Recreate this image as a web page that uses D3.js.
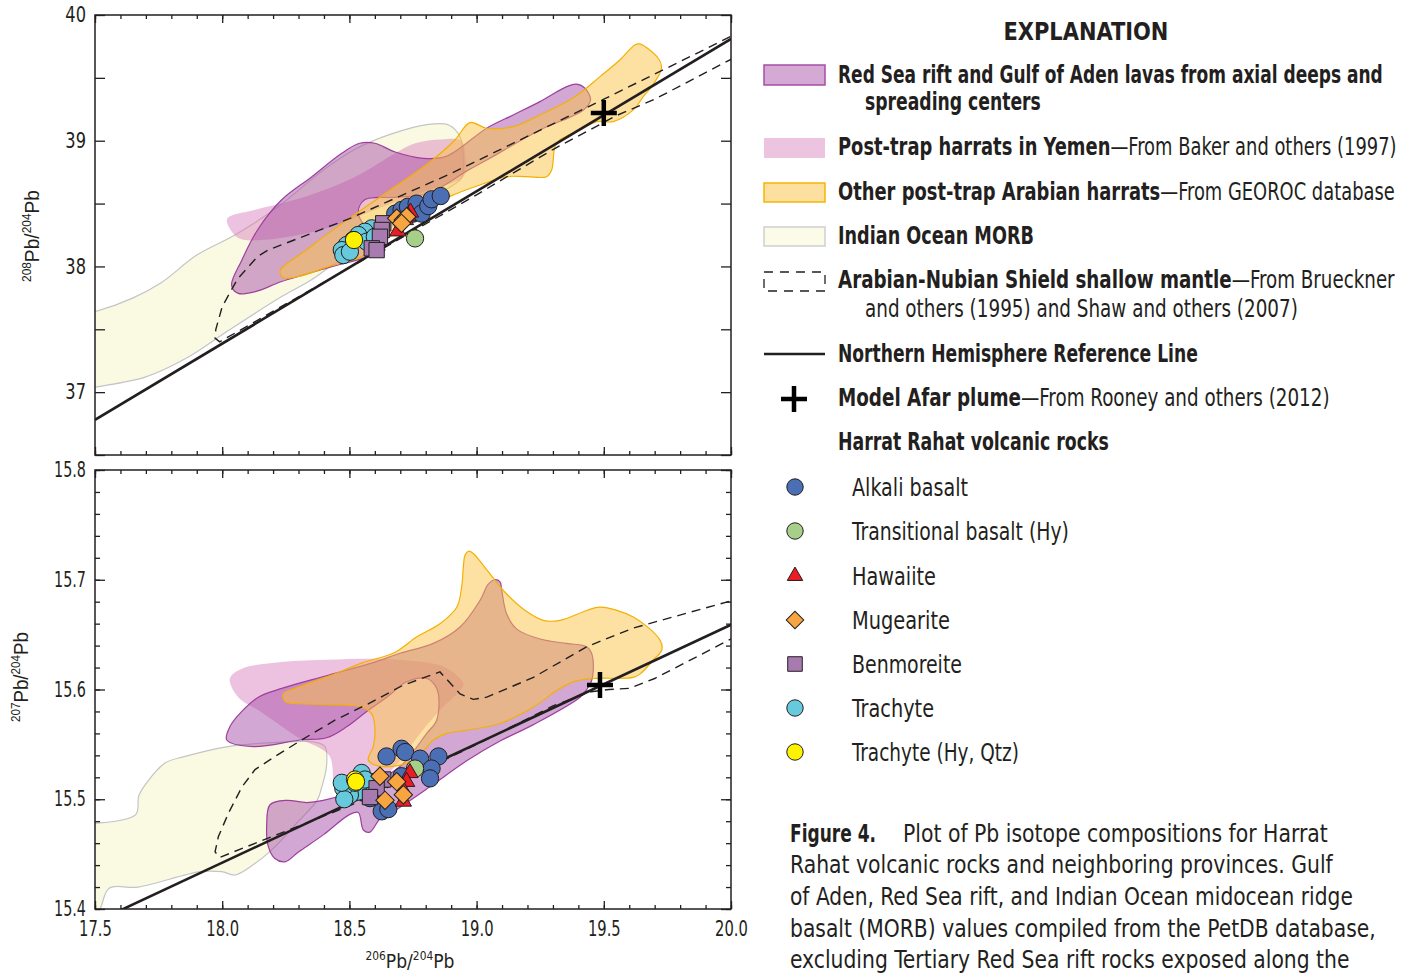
<!DOCTYPE html>
<html>
<head>
<meta charset="utf-8">
<title>Pb isotopes - Harrat Rahat</title>
<script src="https://cdn.jsdelivr.net/npm/d3@7"></script>
<style>
  body { margin: 0; background: #fff; }
  svg { display: block; }
  text { font-family: "Liberation Sans Narrow", "Arial Narrow", "DejaVu Sans Condensed", sans-serif; fill: #231f20; }
</style>
</head>
<body>
<div id="chart"></div>
<script>
// values (206Pb/204Pb on x, 208Pb/204Pb top panel, 207Pb/204Pb bottom panel)
var xTickLabels = ["17.5", "18.0", "18.5", "19.0", "19.5", "20.0"];
var yTopLabels = ["37", "38", "39", "40"];
var yBotLabels = ["15.4", "15.5", "15.6", "15.7", "15.8"];

// fields, 208 panel
var morb208 = [[17.45, 37.62], [17.5, 37.64], [17.65, 37.75], [17.76, 37.87], [17.9, 38.09], [18.05, 38.25], [18.21, 38.46],
  [18.4, 38.77], [18.52, 38.93], [18.66, 39.05], [18.81, 39.13], [18.89, 39.125], [18.935, 39.03], [18.948, 38.79],
  [18.94, 38.70], [18.8, 38.52], [18.6, 38.22], [18.44, 38.02], [18.34, 37.88], [18.234, 37.76], [18.024, 37.49],
  [17.867, 37.28], [17.697, 37.12], [17.5, 37.04], [17.45, 37.02]];
var yemen208 = [[18.02, 38.38], [18.13, 38.45], [18.286, 38.53], [18.417, 38.62], [18.548, 38.74], [18.68, 38.9],
  [18.758, 38.98], [18.863, 39.01], [18.94, 39.0], [18.955, 38.88], [18.95, 38.72], [18.8, 38.6], [18.6, 38.45],
  [18.45, 38.33], [18.3, 38.25], [18.15, 38.21], [18.07, 38.22], [18.03, 38.3]];
var redSea208 = [[18.037, 37.85], [18.077, 38.05], [18.142, 38.3], [18.234, 38.53], [18.35, 38.71], [18.47, 38.9],
  [18.54, 38.98], [18.6, 38.98], [18.68, 38.91], [18.79, 38.86], [18.88, 38.875], [19.04, 39.1], [19.144, 39.205],
  [19.249, 39.311], [19.354, 39.43], [19.393, 39.45], [19.426, 39.417], [19.448, 39.324], [19.42, 39.245],
  [19.249, 39.085], [19.04, 38.847], [18.97, 38.77], [18.81, 38.58], [18.68, 38.55], [18.56, 38.53], [18.535, 38.42],
  [18.6, 38.22], [18.64, 38.13], [18.58, 38.08], [18.4, 37.98], [18.234, 37.88], [18.13, 37.8], [18.063, 37.786]];
var harrats208 = [[18.227, 37.96], [18.247, 38.01], [18.312, 38.104], [18.417, 38.263], [18.548, 38.45], [18.68, 38.635],
  [18.81, 38.82], [18.915, 39.006], [18.974, 39.144], [19.04, 39.099], [19.144, 39.112], [19.249, 39.205],
  [19.354, 39.31], [19.406, 39.377], [19.485, 39.51], [19.563, 39.642], [19.622, 39.762], [19.642, 39.77],
  [19.714, 39.656], [19.727, 39.589], [19.72, 39.536], [19.688, 39.43], [19.655, 39.35], [19.616, 39.245],
  [19.537, 39.152], [19.472, 39.152], [19.406, 39.085], [19.327, 39.006], [19.308, 38.953], [19.295, 38.767],
  [19.275, 38.714], [19.197, 38.714], [19.118, 38.714], [19.013, 38.648], [18.908, 38.568], [18.817, 38.475],
  [18.66, 38.237], [18.55, 38.08], [18.42, 38.0], [18.3, 37.92], [18.24, 37.91]];
var shield208 = [[20.05, 39.88], [19.5, 39.33], [18.9, 38.74], [18.5, 38.38], [18.18, 38.13], [18.14, 38.08],
  [18.06, 37.9], [18.0, 37.68], [17.975, 37.5], [17.972, 37.43], [17.99, 37.40], [18.5, 37.99], [19.0, 38.57],
  [19.3, 38.93], [19.55, 39.2], [19.7, 39.33], [20.05, 39.7]];
var nhrl208 = [[17.5, 36.78], [20.0, 39.81]];
var plume208 = [19.5, 39.22];

// fields, 207 panel
var morb207 = [[17.45, 15.478], [17.5, 15.478], [17.66, 15.486], [17.672, 15.503], [17.70, 15.514], [17.775, 15.533],
  [17.854, 15.539], [18.024, 15.548], [18.234, 15.552], [18.365, 15.552], [18.404, 15.548], [18.41, 15.53],
  [18.39, 15.51], [18.373, 15.499], [18.3, 15.48], [18.2, 15.455], [18.12, 15.44], [18.05, 15.431], [17.998, 15.434],
  [17.914, 15.434], [17.669, 15.42], [17.556, 15.419], [17.52, 15.40], [17.45, 15.37]];
var yemen207 = [[18.03, 15.61], [18.077, 15.619], [18.234, 15.625], [18.417, 15.627], [18.574, 15.628], [18.699, 15.627],
  [18.869, 15.621], [18.935, 15.61], [18.948, 15.604], [18.856, 15.581], [18.778, 15.56], [18.68, 15.53],
  [18.56, 15.505], [18.45, 15.51], [18.42, 15.54], [18.3, 15.556], [18.15, 15.58], [18.063, 15.593]];
var redSea207 = [[18.018, 15.554], [18.03, 15.566], [18.077, 15.580], [18.142, 15.593], [18.234, 15.601],
  [18.417, 15.613], [18.60, 15.625], [18.699, 15.633], [18.83, 15.642], [18.935, 15.657], [19.013, 15.681],
  [19.046, 15.696], [19.072, 15.700], [19.092, 15.698], [19.099, 15.69], [19.118, 15.669], [19.158, 15.655],
  [19.249, 15.646], [19.354, 15.642], [19.433, 15.639], [19.452, 15.633], [19.459, 15.621], [19.452, 15.608],
  [19.433, 15.600], [19.407, 15.593], [19.223, 15.568], [19.092, 15.553], [18.961, 15.535], [18.82, 15.512],
  [18.68, 15.49], [18.62, 15.482], [18.58, 15.47], [18.555, 15.472], [18.535, 15.488], [18.5, 15.486],
  [18.4, 15.468], [18.3, 15.452], [18.247, 15.443], [18.207, 15.446], [18.181, 15.457], [18.175, 15.477],
  [18.188, 15.495], [18.253, 15.499], [18.332, 15.497], [18.397, 15.499], [18.55, 15.51], [18.7, 15.53],
  [18.804, 15.56], [18.843, 15.572], [18.85, 15.596], [18.836, 15.604], [18.804, 15.610], [18.725, 15.607],
  [18.647, 15.593], [18.568, 15.58], [18.489, 15.566], [18.41, 15.556], [18.306, 15.554], [18.122, 15.548]];
var harrats207 = [[18.24, 15.596], [18.286, 15.601], [18.417, 15.612], [18.548, 15.624], [18.68, 15.634],
  [18.765, 15.648], [18.856, 15.660], [18.922, 15.675], [18.941, 15.693], [18.948, 15.712], [18.954, 15.722],
  [18.968, 15.726], [18.987, 15.724], [19.04, 15.709], [19.118, 15.687], [19.197, 15.671], [19.262, 15.663],
  [19.328, 15.663], [19.433, 15.672], [19.485, 15.675], [19.616, 15.666], [19.721, 15.645], [19.728, 15.636],
  [19.695, 15.627], [19.642, 15.614], [19.616, 15.611], [19.459, 15.610], [19.38, 15.607], [19.315, 15.599],
  [19.223, 15.584], [19.092, 15.569], [18.961, 15.563], [18.882, 15.56], [18.83, 15.554], [18.75, 15.535],
  [18.62, 15.53], [18.574, 15.536], [18.594, 15.548], [18.6, 15.566], [18.587, 15.578], [18.548, 15.584],
  [18.443, 15.586], [18.312, 15.587], [18.247, 15.589]];
var shield207 = [[20.05, 15.684], [19.616, 15.656], [19.433, 15.639], [19.223, 15.611], [19.04, 15.593],
  [18.987, 15.591], [18.935, 15.596], [18.856, 15.616], [18.712, 15.604], [18.574, 15.587], [18.443, 15.572],
  [18.312, 15.554], [18.208, 15.539], [18.129, 15.527], [18.077, 15.511], [18.024, 15.487], [17.985, 15.466],
  [17.972, 15.452], [17.99, 15.447], [18.5, 15.494], [19.0, 15.55], [19.3, 15.585], [19.45, 15.598],
  [19.52, 15.60], [19.6, 15.601], [19.7, 15.61], [20.05, 15.652]];
var nhrl207 = [[17.5, 15.388], [20.0, 15.659]];
var plume207 = [19.485, 15.604];

// Harrat Rahat samples
var rockTypes = ["Alkali basalt", "Transitional basalt (Hy)", "Hawaiite", "Mugearite", "Benmoreite", "Trachyte", "Trachyte (Hy, Qtz)"];
var alkali208 = [[18.68, 38.42], [18.705, 38.45], [18.73, 38.475], [18.75, 38.42], [18.764, 38.50], [18.784, 38.42],
  [18.81, 38.48], [18.823, 38.534], [18.859, 38.56]];
var transitional208 = [[18.758, 38.223]];
var hawaiite208 = [[18.74, 38.43], [18.73, 38.40], [18.72, 38.37], [18.69, 38.28]];
var mugearite208 = [[18.686, 38.383], [18.712, 38.37], [18.725, 38.395], [18.705, 38.343]];
var benmoreite208 = [[18.633, 38.343], [18.627, 38.29], [18.62, 38.236], [18.588, 38.144], [18.607, 38.13]];
var trachyte208 = [[18.588, 38.303], [18.561, 38.276], [18.535, 38.25], [18.515, 38.21], [18.489, 38.17],
  [18.47, 38.13], [18.476, 38.09], [18.502, 38.117], [18.568, 38.197], [18.6, 38.236]];
var trachyteQ208 = [[18.518, 38.21]];

var alkali207 = [[18.646, 15.539], [18.705, 15.546], [18.719, 15.543], [18.778, 15.537], [18.85, 15.539],
  [18.823, 15.528], [18.817, 15.519], [18.627, 15.489], [18.653, 15.491], [18.581, 15.501], [18.705, 15.521]];
var transitional207 = [[18.758, 15.528]];
var hawaiite207 = [[18.738, 15.524], [18.725, 15.516], [18.712, 15.508], [18.712, 15.498]];
var mugearite207 = [[18.62, 15.521], [18.686, 15.516], [18.712, 15.504], [18.64, 15.499]];
var benmoreite207 = [[18.633, 15.518], [18.607, 15.51], [18.581, 15.502]];
var trachyte207 = [[18.548, 15.524], [18.581, 15.516], [18.568, 15.51], [18.535, 15.507], [18.502, 15.504],
  [18.476, 15.51], [18.48, 15.5], [18.522, 15.515], [18.561, 15.518], [18.47, 15.515]];
var trachyteQ207 = [[18.522, 15.518], [18.526, 15.516]];

// ---- drawing ----
var svg = d3.select("#chart").append("svg").attr("width", 1413).attr("height", 974);

var x = d3.scaleLinear().domain([17.5, 20]).range([95, 731]);
var yTop = d3.scaleLinear().domain([36.5, 40]).range([455, 15]);
var yBot = d3.scaleLinear().domain([15.4, 15.8]).range([909, 470]);

var xMinor = d3.range(0, 26).map(i => +(17.5 + i * 0.1).toFixed(1));
var xMajor = xTickLabels.map(Number);

var ink = "#231f20";
var fieldStyle = {
  morb: { fill: "#fafae2", stroke: "#c4c4c4" },
  yemen: { fill: "rgba(214,120,186,0.45)", stroke: "none" },
  redSea: { fill: "rgba(168,80,168,0.5)", stroke: "#9e3f9e" },
  harrats: { fill: "rgba(252,196,70,0.5)", stroke: "#f4b000" }
};
var markers = [
  { sym: d3.symbolCircle, size: 235, fill: "#4a6fb5", rot: 0 },
  { sym: d3.symbolCircle, size: 235, fill: "#a6d08a", rot: 0 },
  { sym: d3.symbolTriangle, size: 115, fill: "#ec1c24", rot: 0 },
  { sym: d3.symbolSquare, size: 170, fill: "#f7a540", rot: 45 },
  { sym: d3.symbolSquare, size: 235, fill: "#a77bb0", rot: 0 },
  { sym: d3.symbolCircle, size: 235, fill: "#66c9dc", rot: 0 },
  { sym: d3.symbolCircle, size: 235, fill: "#fff200", rot: 0 }
];

function drawPanel(id, y, fields, shield, nhrl, plume, samples) {
  var top = y.range()[1], bottom = y.range()[0];
  var g = svg.append("g");
  g.append("clipPath").attr("id", id).append("rect")
    .attr("x", 95).attr("y", top).attr("width", 636).attr("height", bottom - top);
  var plot = g.append("g").attr("clip-path", `url(#${id})`);

  var area = d3.line().x(d => x(d[0])).y(d => y(d[1])).curve(d3.curveCatmullRomClosed.alpha(0.5));
  var path = d3.line().x(d => x(d[0])).y(d => y(d[1]));

  fields.forEach(function(f) {
    plot.append("path").attr("d", area(f.pts))
      .attr("fill", fieldStyle[f.key].fill)
      .attr("stroke", fieldStyle[f.key].stroke)
      .attr("stroke-width", 1.2);
  });

  plot.append("path").attr("d", path(shield))
    .attr("fill", "none").attr("stroke", ink).attr("stroke-width", 1.4)
    .attr("stroke-dasharray", "9,6");

  plot.append("path").attr("d", path(nhrl))
    .attr("fill", "none").attr("stroke", ink).attr("stroke-width", 2.6);

  // samples, drawn in the stacking order of the figure
  [0, 1, 5, 4, 2, 3, 6].forEach(function(k) {
    var m = markers[k];
    plot.selectAll(null).data(samples[k]).enter().append("path")
      .attr("d", d3.symbol().type(m.sym).size(m.size))
      .attr("transform", d => `translate(${x(d[0])},${y(d[1])}) rotate(${m.rot})`)
      .attr("fill", m.fill).attr("stroke", ink).attr("stroke-width", 1);
  });

  // model Afar plume
  var px = x(plume[0]), py = y(plume[1]);
  plot.append("path").attr("d", `M${px - 13},${py}H${px + 13}M${px},${py - 13}V${py + 13}`)
    .attr("stroke", "#000").attr("stroke-width", 4.5);

  g.append("rect").attr("x", 95).attr("y", top).attr("width", 636).attr("height", bottom - top)
    .attr("fill", "none").attr("stroke", ink).attr("stroke-width", 1.5);
  return g;
}

function tickMarks(g, axisFn, scale, values, size, transform) {
  g.append("g").attr("transform", transform)
    .call(axisFn(scale).tickValues(values).tickSize(-size).tickFormat(""))
    .call(a => a.select(".domain").remove())
    .call(a => a.selectAll("line").attr("stroke", ink).attr("stroke-width", 1.3));
}

// tick labels, squeezed horizontally to the narrow face of the original
function tickLabels(g, axis, transform, sx) {
  g.append("g").attr("transform", transform).call(axis)
    .attr("font-size", null).attr("font-family", null)
    .call(a => a.select(".domain").remove())
    .call(a => a.selectAll("line").remove())
    .call(a => a.selectAll("text").attr("font-size", 21).attr("fill", ink)
      .attr("x", function() { return +d3.select(this).attr("x") / sx; })
      .attr("transform", `scale(${sx},1)`));
}

// top panel
var gTop = drawPanel("clipTop", yTop,
  [{ key: "morb", pts: morb208 }, { key: "yemen", pts: yemen208 }, { key: "redSea", pts: redSea208 }, { key: "harrats", pts: harrats208 }],
  shield208, nhrl208, plume208,
  [alkali208, transitional208, hawaiite208, mugearite208, benmoreite208, trachyte208, trachyteQ208]);

var yTopMarks = d3.range(0, 8).map(i => 36.5 + i * 0.5);
tickMarks(gTop, d3.axisBottom, x, xMinor, 4, "translate(0,455)");
tickMarks(gTop, d3.axisBottom, x, xMajor, 8, "translate(0,455)");
tickMarks(gTop, d3.axisTop, x, xMinor, 4, "translate(0,15)");
tickMarks(gTop, d3.axisTop, x, xMajor, 8, "translate(0,15)");
tickMarks(gTop, d3.axisLeft, yTop, yTopMarks, 10, "translate(95,0)");
tickMarks(gTop, d3.axisRight, yTop, yTopMarks, 10, "translate(731,0)");
tickLabels(gTop, d3.axisLeft(yTop).tickValues(yTopLabels.map(Number)).tickSize(0).tickPadding(9)
  .tickFormat((d, i) => yTopLabels[i]), "translate(95,0)", 0.86);

// bottom panel
var gBot = drawPanel("clipBot", yBot,
  [{ key: "morb", pts: morb207 }, { key: "yemen", pts: yemen207 }, { key: "redSea", pts: redSea207 }, { key: "harrats", pts: harrats207 }],
  shield207, nhrl207, plume207,
  [alkali207, transitional207, hawaiite207, mugearite207, benmoreite207, trachyte207, trachyteQ207]);

var yBotMinor = d3.range(0, 21).map(i => +(15.4 + i * 0.02).toFixed(2));
var yBotMajor = yBotLabels.map(Number);
tickMarks(gBot, d3.axisBottom, x, xMinor, 4, "translate(0,909)");
tickMarks(gBot, d3.axisBottom, x, xMajor, 8, "translate(0,909)");
tickMarks(gBot, d3.axisTop, x, xMinor, 4, "translate(0,470)");
tickMarks(gBot, d3.axisTop, x, xMajor, 8, "translate(0,470)");
tickMarks(gBot, d3.axisLeft, yBot, yBotMinor, 5, "translate(95,0)");
tickMarks(gBot, d3.axisLeft, yBot, yBotMajor, 10, "translate(95,0)");
tickMarks(gBot, d3.axisRight, yBot, yBotMinor, 5, "translate(731,0)");
tickMarks(gBot, d3.axisRight, yBot, yBotMajor, 10, "translate(731,0)");
tickLabels(gBot, d3.axisLeft(yBot).tickValues(yBotMajor).tickSize(0).tickPadding(9)
  .tickFormat((d, i) => yBotLabels[i]), "translate(95,0)", 0.76);
tickLabels(gBot, d3.axisBottom(x).tickValues(xMajor).tickSize(0).tickPadding(12)
  .tickFormat((d, i) => xTickLabels[i]), "translate(0,909)", 0.78);

// text helper: draws a line of mixed bold/regular runs and squeezes it to a given width
function fitLine(parent, x0, y0, parts, width, size, opts) {
  opts = opts || {};
  var g = parent.append("g");
  var t = g.append("text").attr("font-size", size);
  if (opts.family) t.style("font-family", opts.family);
  parts.forEach(function(p) {
    var s = t.append("tspan").attr("font-weight", p.bold ? "bold" : "normal").text(p.text);
    if (p.sup) s.attr("font-size", size * 0.62).attr("dy", p.dy);
    else if (p.dy) s.attr("dy", p.dy);
  });
  var w = t.node().getComputedTextLength();
  var sx = width / w;
  t.attr("x", -w / 2 * (opts.middle ? 1 : 0));
  g.attr("transform", `translate(${x0},${y0})` + (opts.rotate ? ` rotate(${opts.rotate})` : "") + ` scale(${sx},1)`);
  return g;
}

function isoLabel(mass) {
  return [{ text: mass, sup: true, dy: -8 }, { text: "Pb/", dy: 8 }, { text: "204", sup: true, dy: -8 }, { text: "Pb", dy: 8 }];
}

fitLine(svg, 39, 236, isoLabel("208"), 92, 21, { middle: true, rotate: -90, family: "'Liberation Sans', Arial, sans-serif" });
fitLine(svg, 28, 677, isoLabel("207"), 90, 20, { middle: true, rotate: -90, family: "'Liberation Sans', Arial, sans-serif" });
fitLine(svg, 410, 968, isoLabel("206"), 89, 20, { middle: true });

// explanation
var leg = svg.append("g");
fitLine(leg, 1086, 40, [{ text: "EXPLANATION", bold: true }], 165, 25, { middle: true });

var legendLines = [
  [838, 83, [{ text: "Red Sea rift and Gulf of Aden lavas from axial deeps and", bold: true }], 545],
  [865, 110, [{ text: "spreading centers", bold: true }], 176],
  [838, 155, [{ text: "Post-trap harrats in Yemen", bold: true }, { text: "—From Baker and others (1997)" }], 559],
  [838, 200, [{ text: "Other post-trap Arabian harrats", bold: true }, { text: "—From GEOROC database" }], 557],
  [838, 244, [{ text: "Indian Ocean MORB", bold: true }], 196],
  [838, 288, [{ text: "Arabian-Nubian Shield shallow mantle", bold: true }, { text: "—From Brueckner" }], 557],
  [865, 317, [{ text: "and others (1995) and Shaw and others (2007)" }], 433],
  [838, 362, [{ text: "Northern Hemisphere Reference Line", bold: true }], 360],
  [838, 406, [{ text: "Model Afar plume", bold: true }, { text: "—From Rooney and others (2012)" }], 492],
  [838, 450, [{ text: "Harrat Rahat volcanic rocks", bold: true }], 271]
];
legendLines.forEach(l => fitLine(leg, l[0], l[1], l[2], l[3], 24));

leg.append("rect").attr("x", 764).attr("y", 65).attr("width", 61).attr("height", 20)
  .attr("fill", "#d4aad4").attr("stroke", "#a64ea6").attr("stroke-width", 1.5);
leg.append("rect").attr("x", 764).attr("y", 138).attr("width", 61).attr("height", 20)
  .attr("fill", "#ecc4df");
leg.append("rect").attr("x", 764).attr("y", 183).attr("width", 61).attr("height", 19)
  .attr("fill", "#fde0a0").attr("stroke", "#f6b400").attr("stroke-width", 1.5);
leg.append("rect").attr("x", 764).attr("y", 227).attr("width", 61).attr("height", 19)
  .attr("fill", "#fbfbe8").attr("stroke", "#d0d0d0").attr("stroke-width", 1.5);
leg.append("rect").attr("x", 764).attr("y", 272).attr("width", 61).attr("height", 19)
  .attr("fill", "none").attr("stroke", ink).attr("stroke-width", 1.3).attr("stroke-dasharray", "9,7");
leg.append("line").attr("x1", 764).attr("x2", 825).attr("y1", 354).attr("y2", 354)
  .attr("stroke", ink).attr("stroke-width", 2.6);
leg.append("path").attr("d", "M781,399H807M794,386V412").attr("stroke", "#000").attr("stroke-width", 4.5);

var symbolRows = [487, 531, 576, 620, 664, 708, 752];
var symbolWidths = [116, 217, 84, 98, 110, 82, 167];
rockTypes.forEach(function(name, i) {
  var m = markers[i];
  leg.append("path").attr("d", d3.symbol().type(m.sym).size(m.size * 0.9))
    .attr("transform", `translate(795,${symbolRows[i]}) rotate(${m.rot})`)
    .attr("fill", m.fill).attr("stroke", ink).attr("stroke-width", 1);
  fitLine(leg, 852, symbolRows[i] + 8.5, [{ text: name }], symbolWidths[i], 24);
});

// figure caption
var cap = svg.append("g");
fitLine(cap, 790, 842, [{ text: "Figure 4.", bold: true }], 86, 24);
fitLine(cap, 903, 842, [{ text: "Plot of Pb isotope compositions for Harrat" }], 425, 24);
var captionLines = [
  ["Rahat volcanic rocks and neighboring provinces. Gulf", 873, 543],
  ["of Aden, Red Sea rift, and Indian Ocean midocean ridge", 905, 563],
  ["basalt (MORB) values compiled from the PetDB database,", 937, 586],
  ["excluding Tertiary Red Sea rift rocks exposed along the", 968, 560]
];
captionLines.forEach(c => fitLine(cap, 790, c[1], [{ text: c[0] }], c[2], 24));
</script>
</body>
</html>
